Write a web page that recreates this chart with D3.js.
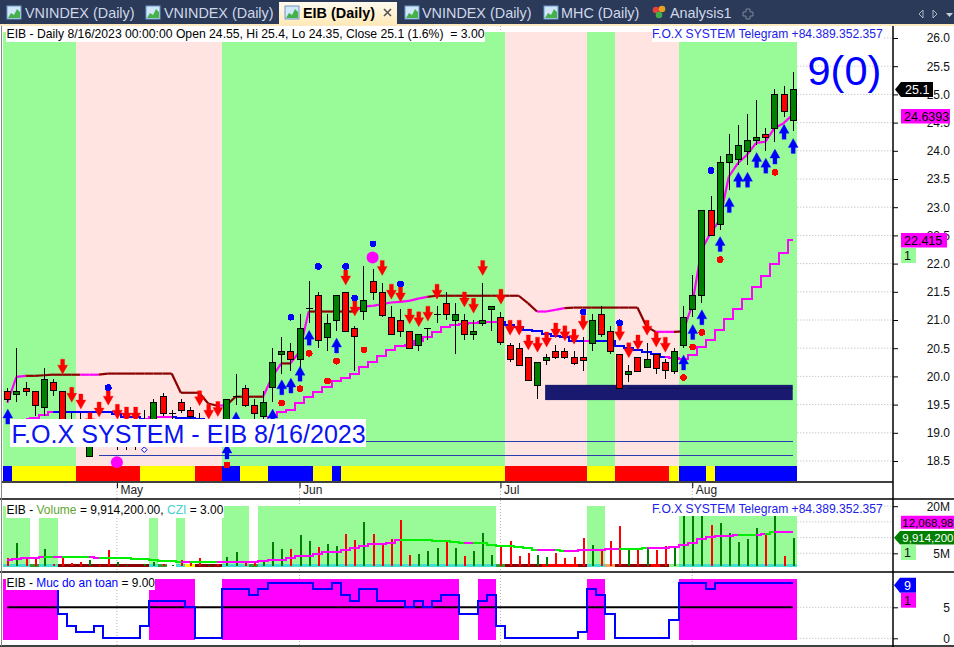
<!DOCTYPE html>
<html><head><meta charset="utf-8">
<script src="https://cdn.jsdelivr.net/npm/d3@7"></script>
<style>
html,body{margin:0;padding:0;background:#fff;overflow:hidden}
svg{display:block;font-family:"Liberation Sans",Arial,sans-serif}
</style></head><body><svg id="c" width="954" height="647"></svg>
<script>
// ---------- data ----------
const opens=[19.75,19.7,19.8,19.75,19.45,19.9,19.75,19.2,19.2,18.6,19.0,19.0,18.75,18.9,18.9,19.1,19.15,19.65,19.35,19.55,19.4,19.2,19.1,19.1,19.0,19.65,19.8,19.5,19.3,19.8,20.4,20.45,20.3,21.2,21.45,20.7,21.0,21.5,20.85,21.15,21.7,21.5,21.05,21.0,20.8,20.55,20.85,21.1,21.3,21.0,21.0,20.75,20.95,21.2,21.05,20.55,20.5,20.35,19.85,20.3,20.45,20.45,20.35,20.35,20.6,21.1,20.8,20.4,20.05,20.35,20.15,20.4,20.25,20.1,20.55,21.2,21.45,22.95,22.7,23.8,23.85,24.0,24.2,24.3,24.4,25.0,24.55];
const highs=[19.8,20.5,19.9,19.75,20.15,19.95,19.75,19.35,19.35,19.1,19.1,19.1,18.85,19.0,19.1,19.4,19.6,19.7,19.4,19.6,19.45,19.35,19.2,19.2,19.6,20.05,19.85,19.6,19.75,20.5,20.7,20.6,21.1,21.7,21.5,21.1,21.45,21.5,20.9,21.95,21.9,21.65,21.25,21.2,20.8,20.75,20.85,21.25,21.5,21.3,21.1,21.0,21.65,21.25,21.15,20.6,20.6,20.35,20.25,20.4,20.55,20.5,20.45,20.7,21.1,21.25,20.9,20.4,20.2,20.35,20.6,20.4,20.3,20.5,21.25,21.8,22.95,23.2,23.9,24.3,24.45,24.65,24.9,24.4,25.1,25.15,25.4];
const lows=[19.55,19.55,19.65,19.3,19.3,19.65,19.0,19.0,19.0,18.6,18.85,18.85,18.7,18.7,18.7,18.9,19.05,19.3,19.25,19.35,19.2,19.0,19.0,18.95,18.9,19.5,19.45,19.2,19.25,19.55,20.05,20.1,20.1,20.95,20.5,20.45,20.8,20.8,20.1,21.0,21.35,21.05,20.75,20.7,20.5,20.45,20.65,20.95,21.0,20.4,20.65,20.65,20.9,20.8,20.55,20.25,20.2,19.95,19.6,20.2,20.3,20.3,20.2,20.1,20.45,20.7,20.4,19.8,19.9,20.1,20.15,20.05,19.95,20.05,20.5,21.05,21.3,22.5,22.6,23.3,23.75,23.75,24.1,24.0,24.15,24.6,24.35];
const closes=[19.6,19.75,19.75,19.5,19.95,19.75,19.05,19.1,19.1,19.0,18.9,18.95,18.75,18.95,19.0,19.2,19.55,19.35,19.35,19.4,19.3,19.05,19.1,19.0,19.6,19.65,19.5,19.35,19.55,20.25,20.45,20.3,20.85,21.2,20.65,20.95,21.45,20.8,20.7,21.35,21.5,21.1,20.75,20.8,20.5,20.75,20.85,21.1,21.1,21.1,20.75,20.8,21.0,21.25,20.6,20.3,20.2,19.95,20.25,20.35,20.35,20.35,20.25,20.3,21.0,20.75,20.45,19.8,20.1,20.1,20.3,20.15,20.1,20.45,21.05,21.45,22.95,22.5,23.8,23.95,24.1,24.2,24.25,24.25,25.0,24.7,25.1];

const upperLine=[19.53,19.99,20.01,20.01,20.02,20.03,20.03,20.03,20.03,20.03,20.03,20.05,20.05,20.05,20.05,20.05,20.05,20.05,20.05,19.71,19.71,19.71,19.52,19.48,19.49,19.64,19.64,19.64,19.64,19.99,20.23,20.23,20.44,21.15,21.15,21.15,21.15,21.15,21.15,21.24,21.25,21.28,21.31,21.32,21.34,21.38,21.41,21.43,21.43,21.43,21.43,21.43,21.43,21.43,21.43,21.43,21.43,21.3,21.15,21.15,21.18,21.21,21.22,21.22,21.22,21.22,21.22,21.22,21.22,21.22,20.88,20.79,20.79,20.79,20.8,21.27,22.24,22.54,22.77,23.54,23.78,23.93,24.14,24.16,24.4,24.49,24.64];
const lowerLine=[null,null,19.24,19.26,19.32,19.37,19.37,19.37,19.37,19.37,19.37,19.37,19.33,19.28,19.28,19.25,19.28,19.28,19.28,19.27,19.27,19.24,19.23,19.21,19.09,19.09,19.12,19.16,19.21,19.28,19.36,19.41,19.52,19.64,19.73,19.82,19.91,19.98,20.05,20.16,20.26,20.36,20.46,20.54,20.56,20.62,20.69,20.79,20.88,20.91,20.93,20.95,20.97,20.97,20.97,20.91,20.87,20.82,20.81,20.75,20.72,20.69,20.63,20.62,20.63,20.63,20.63,20.54,20.51,20.47,20.44,20.39,20.35,20.32,20.31,20.38,20.52,20.65,20.82,21.01,21.19,21.38,21.59,21.78,21.99,22.18,22.42];

const sellIdx=[6,7,8,9,10,11,12,13,14,21,22,23,37,38,41,42,43,44,45,46,47,50,51,52,54,55,56,57,58,59,60,61,62,63,67,68,69,70,71,72];
const sellAt=[20.04,19.54,19.42,19.09,19.28,19.49,19.24,19.19,19.19,19.48,19.24,19.29,21.62,21.07,21.79,21.37,21.32,20.93,20.88,20.98,21.37,21.23,21.12,21.79,21.28,20.73,20.73,20.47,20.43,20.52,20.68,20.63,20.57,20.82,20.63,20.33,20.47,20.73,20.52,20.43];
const buyIdx=[0,24,25,29,30,31,32,33,36,74,75,76,78,79,80,81,82,83,84,85,86];
const buyAt=[19.42,18.8,19.37,19.42,19.94,19.97,20.18,20.82,20.68,20.38,20.92,21.18,22.48,23.17,23.62,23.62,23.97,23.87,24.03,24.47,24.22];
const blueDotIdx=[11,31,34,37,38,40,43,63,67,77];
const blueDotAt=[19.8,21.05,21.95,21.95,21.39,22.35,21.64,21.14,20.95,23.65];
const redDotIdx=[24,30,32,33,35,36,39,74,75,76,78,84];
const redDotAt=[18.43,19.53,19.78,20.41,19.92,20.27,20.47,19.98,20.52,20.78,22.07,23.62];
const hollowIdx=[15], hollowAt=[18.7];
const bigDotIdx=[12,40], bigDotAt=[18.48,22.11];

const volumes=[3.61,8.18,3.4,3.4,6.37,1.6,3.4,1.81,2.34,2.87,1.28,6.05,2.13,1.28,1.07,1.49,2.34,1.6,1.28,2.87,1.81,3.61,1.28,1.49,3.82,5.52,2.66,2.34,2.66,8.71,6.37,6.37,10.83,8.92,7.12,7.97,7.33,11.15,9.24,14.97,11.15,7.65,9.56,15.61,4.46,4.78,5.74,6.69,8.6,6.69,4.14,5.74,11.47,4.46,7.65,8.92,4.14,5.1,4.46,3.82,5.1,3.51,3.82,9.88,7.65,6.37,8.92,13.7,6.05,6.37,7.01,6.05,7.33,7.01,16.9,16.9,16.9,14.0,14.65,11.47,8.6,9.56,13.06,10.83,16.9,4.14,9.91];
const volumeMA=[2.87,3.19,3.4,3.4,3.72,3.93,3.93,3.72,3.72,3.72,3.4,3.61,3.61,3.61,3.19,3.19,2.76,2.55,2.55,2.34,2.23,2.23,2.34,2.34,2.23,2.23,2.23,2.23,2.66,2.98,2.98,3.61,4.25,4.25,4.67,5.31,5.52,6.05,6.59,7.33,7.86,8.07,8.39,9.13,9.24,9.24,9.24,8.92,8.81,8.6,8.28,8.28,8.18,7.65,7.43,7.43,7.12,6.8,6.16,6.16,6.16,5.84,5.84,6.05,6.16,6.16,6.27,6.48,6.48,6.48,6.59,6.59,6.8,6.9,7.65,8.39,9.45,10.09,10.41,10.62,10.83,10.83,10.83,11.04,11.89,11.89,11.89];
const safety=[null,null,null,null,null,8,4,2,1,1,2,0,0,0,0,2,6,6,6,6,5,0,0,0,8,8,8,7,8,9,9,9,9,9,8,8,9,7,6,8,8,6,6,6,5,6,5,6,7,7,4,4,6,7,2,0,0,0,0,0,0,0,0,1,8,7,4,0,0,0,0,0,0,3,9,9,9,8,9,9,9,9,9,9,9,9,9];

// state runs: [state, number of bars]
const zoneRuns=[["g",8],["p",16],["g",31],["p",9],["g",3],["p",7],["g",13]];
const stripRuns=[["b",1],["y",7],["r",7],["y",6],["r",3],["b",2],["y",3],["b",5],["y",2],["b",1],["y",18],["r",9],["y",3],["r",6],["y",1],["b",3],["y",1],["b",9]];
const upperRuns=[["m",3],["d",6],["m",2],["d",13],["m",1],["d",4],["m",2],["d",1],["m",2],["d",5],["m",8],["d",12],["m",3],["d",10],["m",2],["d",1],["m",12]];
const lowerRuns=[["m",6],["b",10],["m",3],["b",6],["m",30],["b",9],["m",1],["b",8],["m",14]];
const maRuns=[["m",5],["g",1],["m",1],["g",3],["m",1],["g",9],["m",1],["g",3],["m",20],["g",7],["m",1],["g",7],["m",2],["g",1],["m",6],["g",3],["m",10],["g",2],["m",1],["g",1],["m",2]];
const volZoneRuns=[[20,3],[0,1],[16.9,2],[0,10],[16.9,1],[0,2],[16.9,1],[0,4],[20,3],[0,1],[20,26],[0,10],[20,2],[0,8],[16.9,13]];
const volStripRuns=[["t",3],["g",1],["t",2],["d",10],["t",1],["g",1],["n",1],["t",1],["y",1],["d",3],["t",3],["g",1],["t",26],["g",1],["d",4],["r",4],["d",1],["t",2],["o",1],["d",4],["r",1],["d",1],["l",1],["t",13]];
const safeZoneRuns=[[1,6],[0,10],[1,5],[0,3],[1,26],[0,2],[1,2],[0,10],[1,2],[0,8],[1,13]];

const priceTicks=[18.5,19,19.5,20,20.5,21,21.5,22,22.5,23,23.5,24,24.5,25,25.5,26];
const volTicks=[5,20], volGrid=[5,10,15,20], safeTicks=[0,5];
const monthIdx=[12,32,54,75], monthNames=["May","Jun","Jul","Aug"];
const supplyTop=19.85, supplyBottom=19.58, supplyMid=19.79, supplyFrom=59, supplyMidFrom=68;
const levelA=18.85, levelAFrom=39, levelB=18.6, levelBFrom=10, lastBar=86;
const tabLabels=["VNINDEX (Daily)","VNINDEX (Daily)","EIB (Daily)","VNINDEX (Daily)","MHC (Daily)","Analysis1"];
const titleMain="EIB - Daily 8/16/2023 00:00:00 Open 24.55, Hi 25.4, Lo 24.35, Close 25.1 (1.6%)  = 3.00";
const foxText="F.O.X SYSTEM Telegram +84.389.352.357";
const bannerText="F.O.X SYSTEM - EIB 8/16/2023";
const bigText="9(0)";

// ---------- layout ----------
const svg=d3.select("#c");
const AX=893, COL={g:"#98fb98",p:"#ffe4e1",b:"#0000ff",y:"#ffff00",r:"#ff0000",m:"#ff00ff",d:"#8b0000",t:"#40e0d0",n:"#ffffff",o:"#f4a460",l:"#90ee90",G:"#008000"};
const x=d3.scaleLinear().domain([0,86]).range([7.3,792.7]);
const y=d3.scaleLinear().domain([18.5,26]).range([461,38]);
const yV=d3.scaleLinear().domain([0,20]).range([569,506.2]);
const yS=d3.scaleLinear().domain([0,9]).range([638.3,582.5]);
const n=opens.length, hw=(x(1)-x(0))/2;
const expand=r=>r.flatMap(([s,k])=>Array(k).fill(s));
function runRects(g,runs,fill,yTop,yBot){
  let s=0;
  runs.forEach(([st,k])=>{
    const c=fill(st);
    if(c) g.append("rect").attr("x",x(s)-hw).attr("width",k*2*hw).attr("y",yTop(st)).attr("height",yBot(st)-yTop(st)).attr("fill",c).attr("shape-rendering","crispEdges");
    s+=k;
  });
}
const dots={stroke:"#b4b4b4","stroke-dasharray":"1,2"};

// tabs
const tabs=svg.append("g");
tabs.append("rect").attr("width",954).attr("height",25).attr("fill","#2b3a59");
const grad=svg.append("defs").append("linearGradient").attr("id","tabg").attr("x1",0).attr("x2",0).attr("y1",0).attr("y2",1);
grad.append("stop").attr("offset",0).attr("stop-color","#fffaf0");
grad.append("stop").attr("offset",1).attr("stop-color","#ffe8b4");
tabs.append("rect").attr("x",279).attr("y",2).attr("width",118).attr("height",24).attr("fill","url(#tabg)");
tabs.append("rect").attr("y",24).attr("width",954).attr("height",2).attr("fill","#fde9bd");
const tabX=[25,164,303,422,561,670], iconX=[7,146,285,405,544];
tabLabels.forEach((t,i)=>{
  tabs.append("text").attr("x",tabX[i]).attr("y",18).attr("font-size",14.4).attr("font-weight",i==2?"bold":"normal").attr("fill",i==2?"#000":"#cfd8ea").text(t);
  if(i<5){
    tabs.append("rect").attr("x",iconX[i]).attr("y",6).attr("width",14).attr("height",13).attr("fill","#cfe6fb").attr("stroke","#6f97c8");
    tabs.append("path").attr("d",`M${iconX[i]+1},18 l3,-5 l3,2 l3,-6 l3,3 v6 z`).attr("fill","#46b04a");
  }
});
tabs.append("path").attr("d","M384,9 l7,7 M391,9 l-7,7").attr("stroke","#555").attr("stroke-width",1.6).attr("fill","none");
[[656,10,"#e8403a"],[662,9,"#e8a020"],[659,15,"#3fae49"]].forEach(([a,b,c])=>tabs.append("circle").attr("cx",a).attr("cy",b).attr("r",3.3).attr("fill",c));
tabs.append("path").attr("d","M746,9 h4 v3 h3 v4 h-3 v3 h-4 v-3 h-3 v-4 h3 z").attr("fill","none").attr("stroke","#7d8699");
tabs.append("path").attr("d","M923,10 l-4,4 l4,4 z M933,10 l4,4 l-4,4 z").attr("fill","none").attr("stroke","#aeb6c6");
tabs.append("path").attr("d","M946,13 h7 l-3.5,4 z").attr("fill","#c8cfdd");

// vertical month grid (shows in gaps) and horizontal dotted grid right of the bars
const grid=svg.append("g");
monthIdx.forEach(m=>{const l=grid.append("line").attr("x1",x(m)).attr("x2",x(m)).attr("y1",26).attr("y2",646);for(const k in dots)l.attr(k,dots[k]);});
const hgrid=(vals,sc)=>vals.forEach(v=>{const l=grid.append("line").attr("x1",x(lastBar)+hw).attr("x2",AX).attr("y1",sc(v)).attr("y2",sc(v));for(const k in dots)l.attr(k,dots[k]);});
hgrid(priceTicks,y);hgrid(volGrid,yV);hgrid(safeTicks,yS);

// ---------- price panel ----------
const pr=svg.append("g");
runRects(pr,zoneRuns,s=>COL[s],()=>32,()=>465.7);
runRects(pr,stripRuns,s=>COL[s],()=>465.7,()=>481);
// supply block + level lines
pr.append("rect").attr("x",x(supplyFrom)-1).attr("width",x(lastBar)-x(supplyFrom)+1).attr("y",y(supplyTop)).attr("height",y(supplyBottom)-y(supplyTop)).attr("fill","#191970");
pr.append("line").attr("x1",x(supplyMidFrom)).attr("x2",x(lastBar)).attr("y1",y(supplyMid)).attr("y2",y(supplyMid)).attr("stroke","#0d0d50");
[[levelA,levelAFrom],[levelB,levelBFrom]].forEach(([v,f])=>pr.append("line").attr("x1",x(f)).attr("x2",x(lastBar)).attr("y1",y(v)).attr("y2",y(v)).attr("stroke","#2b3bb0").attr("stroke-width",1).attr("shape-rendering","crispEdges"));
// coloured lines
function segLine(g,vals,runs,sc,curve,w,crisp){
  const st=expand(runs), ln=d3.line().x(d=>x(d[0])).y(d=>sc(d[1])).curve(curve);
  for(let i=1;i<vals.length;i++){
    if(vals[i]==null||vals[i-1]==null) continue;
    const p=g.append("path").attr("d",ln([[i-1,vals[i-1]],[i,vals[i]]])).attr("fill","none").attr("stroke",COL[st[i]]||st[i]).attr("stroke-width",w);
    if(crisp) p.attr("shape-rendering","crispEdges");
  }
}
segLine(pr,lowerLine,lowerRuns,y,d3.curveStep,2,true);
segLine(pr,upperLine,upperRuns,y,d3.curveLinear,2.2,false);
// candles
const cg=pr.append("g").attr("shape-rendering","crispEdges");
d3.range(n).forEach(i=>{
  const cx=Math.round(x(i));
  cg.append("line").attr("x1",cx+.5).attr("x2",cx+.5).attr("y1",y(highs[i])).attr("y2",y(lows[i])).attr("stroke","#000");
  const top=y(Math.max(opens[i],closes[i])), bot=y(Math.min(opens[i],closes[i]));
  const up=closes[i]>=opens[i];
  if(opens[i]===closes[i]) cg.append("line").attr("x1",cx-3).attr("x2",cx+4).attr("y1",top).attr("y2",top).attr("stroke","#000");
  else cg.append("rect").attr("x",cx-3+.5).attr("width",6).attr("y",Math.round(top)+.5).attr("height",Math.max(2,Math.round(bot-top))).attr("fill",up?COL.G:COL.r).attr("stroke","#000");
});
// arrows
const down="M0,0 L-5,-9 L-2,-9 L-2,-15 L2,-15 L2,-9 L5,-9 Z", upA="M0,0 L-5,9 L-2,9 L-2,15 L2,15 L2,9 L5,9 Z";
sellIdx.forEach((k,j)=>pr.append("path").attr("d",down).attr("transform",`translate(${x(k)+.5},${y(sellAt[j])})`).attr("fill","#ff0000").attr("stroke","#ff0000").attr("stroke-width",.3));
buyIdx.forEach((k,j)=>pr.append("path").attr("d",upA).attr("transform",`translate(${x(k)+.5},${y(buyAt[j])})`).attr("fill","#0000ff").attr("stroke","#0000ff").attr("stroke-width",.3));
blueDotIdx.forEach((k,j)=>pr.append("circle").attr("cx",x(k)+.5).attr("cy",y(blueDotAt[j])).attr("r",3.4).attr("fill","#0000ff").attr("shape-rendering","crispEdges"));
redDotIdx.forEach((k,j)=>pr.append("circle").attr("cx",x(k)+.5).attr("cy",y(redDotAt[j])).attr("r",3.4).attr("fill","#ff0000").attr("shape-rendering","crispEdges"));
hollowIdx.forEach((k,j)=>pr.append("path").attr("d",d3.symbol(d3.symbolDiamond2,20)()).attr("transform",`translate(${x(k)},${y(hollowAt[j])})`).attr("fill","#fff").attr("stroke","#0000ff"));
bigDotIdx.forEach((k,j)=>pr.append("circle").attr("cx",x(k)).attr("cy",y(bigDotAt[j])).attr("r",6).attr("fill","#ff00ff"));
// banner and titles
pr.append("rect").attr("x",10).attr("y",419).attr("width",356).attr("height",28).attr("fill","#fff");
pr.append("text").attr("x",11.5).attr("y",443).attr("font-size",25.1).attr("fill","#0a14f0").text(bannerText);
pr.append("rect").attr("x",6).attr("y",26).attr("width",479).attr("height",16).attr("fill","#fff");
pr.append("text").attr("x",6.5).attr("y",38).attr("font-size",12.2).attr("fill","#000").style("white-space","pre").text(titleMain);
pr.append("rect").attr("x",652).attr("y",26).attr("width",232).attr("height",16).attr("fill","#fff");
pr.append("text").attr("x",652).attr("y",38).attr("font-size",12.1).attr("fill","#2020e8").text(foxText);
pr.append("text").attr("x",807.5).attr("y",85).attr("font-size",41.5).attr("fill","#0000ff").text(bigText);

// ---------- volume panel ----------
const vp=svg.append("g");
runRects(vp,volZoneRuns,s=>s?COL.g:null,s=>yV(s),()=>yV(.65));
runRects(vp,volStripRuns,s=>s=="n"?null:(s=="g"?"#2e9e2e":COL[s]),()=>yV(1.6),()=>yV(.65));
d3.range(n).forEach(i=>{
  vp.append("rect").attr("x",Math.round(x(i))-.5).attr("width",2).attr("y",yV(volumes[i])).attr("height",yV(.95)-yV(volumes[i])).attr("fill",closes[i]>=opens[i]?COL.G:COL.r).attr("shape-rendering","crispEdges");
});
segLine(vp,volumeMA,maRuns.map(([s,k])=>[s=="g"?"#00ee00":s,k]),yV,d3.curveStep,2,true);
vp.append("rect").attr("x",6).attr("y",503).attr("width",218).attr("height",15).attr("fill","#fff");
const t2=vp.append("text").attr("x",6.5).attr("y",514).attr("font-size",12).attr("fill","#000").style("white-space","pre");
t2.append("tspan").text("EIB - ");
t2.append("tspan").attr("fill","#5fa52e").text("Volume");
t2.append("tspan").text(" = 9,914,200.00, ");
t2.append("tspan").attr("fill","#40d0d0").text("CZI");
t2.append("tspan").text(" = 3.00");
vp.append("rect").attr("x",652).attr("y",503).attr("width",232).attr("height",13).attr("fill","#fff");
vp.append("text").attr("x",652).attr("y",513).attr("font-size",12.1).attr("fill","#2020e8").text(foxText);

// ---------- safety panel ----------
const sp=svg.append("g");
runRects(sp,safeZoneRuns,s=>s?COL.m:null,()=>yS(9.53),()=>yS(-.2));
sp.append("line").attr("x1",x(0)).attr("x2",x(lastBar)).attr("y1",yS(5)).attr("y2",yS(5)).attr("stroke","#000").attr("stroke-width",2);
sp.append("path").attr("d",d3.line().defined(d=>d!=null).x((d,i)=>x(i)).y(d=>yS(d)).curve(d3.curveStep)(safety)).attr("fill","none").attr("stroke","#0000ff").attr("stroke-width",2).attr("shape-rendering","crispEdges");
sp.append("rect").attr("x",6).attr("y",575).attr("width",149).attr("height",15).attr("fill","#fff");
const t3=sp.append("text").attr("x",6.5).attr("y",587).attr("font-size",11.9).attr("fill","#000");
t3.append("tspan").text("EIB - ");
t3.append("tspan").attr("fill","#0000ff").text("Muc do an toan");
t3.append("tspan").text(" = 9.00");

// ---------- axes and frame ----------
const fr=svg.append("g");
function yAxis(sc,ticks,fmt){
  const g=fr.append("g").attr("transform",`translate(${AX},0)`).call(d3.axisRight(sc).tickValues(ticks).tickSize(5).tickFormat(fmt));
  g.select(".domain").remove();
  g.selectAll("text").attr("x",57).attr("text-anchor","end").attr("font-size",12).attr("font-family","Liberation Sans").attr("fill","#111");
  g.selectAll("line").attr("stroke","#000");
}
yAxis(y,priceTicks,d3.format(".1f"));
yAxis(yV,volTicks,d=>d+"M");
yAxis(yS,safeTicks,d=>d);
const xa=fr.append("g").attr("transform","translate(0,483)").call(d3.axisBottom(x).tickValues(monthIdx).tickSize(5).tickFormat((d,i)=>monthNames[i]));
xa.select(".domain").remove();
xa.selectAll("text").attr("x",3).attr("y",2).attr("dy","0.71em").attr("text-anchor","start").attr("font-size",12).attr("font-family","Liberation Sans").attr("fill","#222");
xa.selectAll("line").attr("stroke","#000");
const rule=(a,b,c,e,w=1.5)=>fr.append("line").attr("x1",a).attr("y1",b).attr("x2",c).attr("y2",e).attr("stroke","#000").attr("stroke-width",w);
rule(AX,26,AX,647);
rule(2,482,AX,482);
rule(0,499,954,499);
rule(0,572,954,572);
rule(0,646,954,646);
fr.append("line").attr("x1",1.5).attr("x2",1.5).attr("y1",26).attr("y2",646).attr("stroke","#888");

// tags
function tag(yTop,h,x0,x1,fill,label,col,pointed,tx,fs){
  const m=yTop+h/2;
  const d=pointed?`M${x0},${m} L${x0+6},${yTop} H${x1} V${yTop+h} H${x0+6} Z`:`M${x0},${yTop} H${x1} V${yTop+h} H${x0} Z`;
  fr.append("path").attr("d",d).attr("fill",fill);
  fr.append("text").attr("x",tx||(pointed?x0+10:x0+3)).attr("y",m+4.5).attr("font-size",fs||12.5).attr("fill",col).text(label);
}
tag(82,15,895,933,"#000","25.1","#fff",true);
tag(109,14.5,901,950,"#ff00ff","24.6393","#000",false);
tag(233,14.5,901,947,"#ff00ff","22.415","#000",false);
tag(248,15,901,916,"#98fb98","1","#111",false);
tag(515.7,13,901,954,"#ff00ff","12,068,98","#000",false,902.3,11.5);
tag(531,13.5,894,954,"#008000","9,914,200","#fff",true,902.3,11.5);
tag(544.5,15.5,901,916,"#98fb98","1","#111",false);
tag(577.7,15,894,916,"#0000ff","9","#fff",true);
tag(592.7,15,901,916,"#ff00ff","1","#111",false);
</script></body></html>
